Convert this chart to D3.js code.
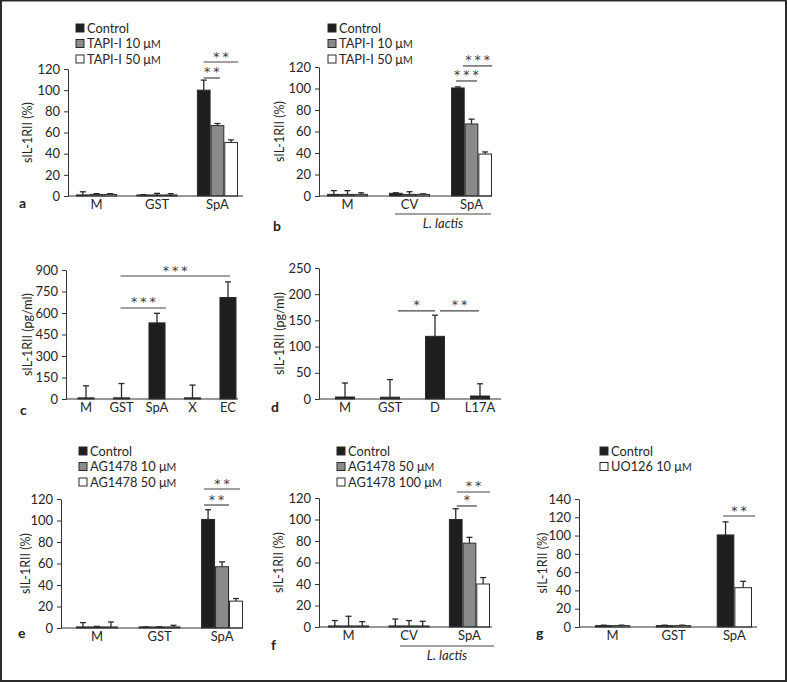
<!DOCTYPE html>
<html><head><meta charset="utf-8">
<script src="https://cdn.jsdelivr.net/npm/d3@7"></script>
<style>body{margin:0;background:#fff}svg{display:block}text{font-family:Lato,"Open Sans",sans-serif}</style>
</head><body><svg id="c" width="787" height="682"></svg>
<script>
// ---------- DATA ----------
const seriesColors = ["#1e1e1e", "#8a8a8a", "#ffffff"];

const aCategories = ["M", "GST", "SpA"];
const aSeries = ["Control", "TAPI-I 10 μM", "TAPI-I 50 μM"];
const aValues = [[1, 1, 100], [1.5, 1, 66.5], [1.5, 1, 50.5]];
const aErrTop = [[4, 1.2, 109.5], [2.2, 2.5, 68.5], [2.2, 2.2, 53]];

const bCategories = ["M", "CV", "SpA"];
const bSeries = ["Control", "TAPI-I 10 μM", "TAPI-I 50 μM"];
const bValues = [[1.5, 2.5, 100.5], [1.5, 1.5, 67], [1.5, 1.5, 39]];
const bErrTop = [[5, 3, 101.5], [5, 4, 71.5], [3, 2, 41]];

const cCategories = ["M", "GST", "SpA", "X", "EC"];
const cValues = [[8, 8, 531, 8, 708]];
const cErrTop = [[92, 108, 598, 97, 817]];

const dCategories = ["M", "GST", "D", "L17A"];
const dValues = [[3.8, 3.5, 119.6, 5.7]];
const dErrTop = [[30.5, 37, 160, 29]];

const eCategories = ["M", "GST", "SpA"];
const eSeries = ["Control", "AG1478 10 μM", "AG1478 50 μM"];
const eValues = [[1, 1, 101], [1, 1, 57], [1, 1, 25]];
const eErrTop = [[5, 1, 110], [1.5, 1.2, 61.5], [5.6, 2.5, 27.4]];

const fCategories = ["M", "CV", "SpA"];
const fSeries = ["Control", "AG1478 50 μM", "AG1478 100 μM"];
const fValues = [[1, 1, 100], [1, 1, 78], [1, 1, 40]];
const fErrTop = [[6, 7.4, 110], [10, 6, 83.4], [5, 5.3, 46]];

const gCategories = ["M", "GST", "SpA"];
const gSeries = ["Control", "UO126 10 μM"];
const gValues = [[1.5, 1.5, 100.7], [1.5, 1.5, 43]];
const gErrTop = [[2, 2, 115], [2, 2, 50]];

const pctTicks = [0, 20, 40, 60, 80, 100, 120];
const cTicks = [0, 150, 300, 450, 600, 750, 900];
const dTicks = [0, 50, 100, 150, 200, 250];
const gTicks = [0, 20, 40, 60, 80, 100, 120, 140];

// ---------- DRAW ----------
const svg = d3.select("#c");
const ink = "#2a2a2a";
const txt = "#262626";

function drawPanel(p) {
  const g = svg.append("g");
  const y = d3.scaleLinear().domain([0, p.yMax]).range([p.y0, p.y1]);
  const x0 = d3.scaleBand().domain(p.cats).range(p.band).paddingInner(p.pi).paddingOuter(0);
  const x1 = d3.scaleBand().domain(d3.range(p.values.length)).range([0, x0.bandwidth()]);
  const colors = p.colors || seriesColors;
  const center = (c, s) => x0(p.cats[c]) + x1(s) + x1.bandwidth() / 2;

  // bars
  p.values.forEach((vals, s) => {
    const rows = vals.map((v, i) => ({ v, e: p.err[s][i], c: p.cats[i] }));
    g.selectAll(null).data(rows).join("line")
      .attr("x1", d => x0(d.c) + x1(s) + x1.bandwidth() / 2)
      .attr("x2", d => x0(d.c) + x1(s) + x1.bandwidth() / 2)
      .attr("y1", d => y(d.v)).attr("y2", d => y(d.e))
      .attr("stroke", ink).attr("stroke-width", 1.3);
    g.selectAll(null).data(rows).join("line")
      .attr("x1", d => x0(d.c) + x1(s) + x1.bandwidth() / 2 - 3)
      .attr("x2", d => x0(d.c) + x1(s) + x1.bandwidth() / 2 + 3)
      .attr("y1", d => y(d.e)).attr("y2", d => y(d.e))
      .attr("stroke", ink).attr("stroke-width", 1.3);
    g.selectAll(null).data(rows).join("rect")
      .attr("x", d => x0(d.c) + x1(s) + 0.5)
      .attr("width", x1.bandwidth() - 1)
      .attr("y", d => y(d.v))
      .attr("height", d => y(0) - y(d.v))
      .attr("fill", colors[s])
      .attr("stroke", ink).attr("stroke-width", 1);
  });

  // y axis
  const ya = g.append("g").attr("transform", `translate(${p.axisX},0)`)
    .call(d3.axisLeft(y).tickValues(p.ticks).tickSize(4).tickSizeOuter(0).tickPadding(4));
  ya.selectAll("text").attr("font-size", 13).attr("fill", txt);
  ya.selectAll("line,path").attr("stroke", "#333");

  // x axis
  const xa = g.append("g").attr("transform", `translate(0,${p.y0})`)
    .call(d3.axisBottom(x0).tickSize(0).tickPadding(4));
  xa.select(".domain").remove();
  xa.selectAll("text").attr("font-size", 13).attr("fill", txt);
  g.append("line").attr("x1", p.axisX).attr("x2", p.axisEnd)
    .attr("y1", p.y0).attr("y2", p.y0).attr("stroke", "#333").attr("stroke-width", 1.2);

  // y title
  g.append("text").attr("transform", `translate(${p.titleX},${(p.y0 + p.y1) / 2}) rotate(-90)`)
    .attr("text-anchor", "middle").attr("font-size", 12.5).attr("fill", txt).text(p.title);

  // panel letter
  g.append("text").attr("x", p.letter[0]).attr("y", p.letter[1])
    .attr("font-size", 14).attr("font-weight", "bold").attr("fill", "#222").text(p.letter[2]);

  // significance
  (p.sig || []).forEach(s => {
    const xa1 = center(s.from[0], s.from[1]) + s.from[2];
    const xa2 = center(s.to[0], s.to[1]) + s.to[2];
    const yy = y(s.v);
    g.append("line").attr("x1", xa1).attr("x2", xa2).attr("y1", yy).attr("y2", yy)
      .attr("stroke", "#444").attr("stroke-width", 1.2);
    g.append("text").attr("x", (xa1 + xa2) / 2 + 1.5).attr("y", yy - 1.5)
      .attr("text-anchor", "middle").attr("font-size", 12.5)
      .style("font-family", "'DejaVu Sans', sans-serif").attr("fill", "#3a3a3a")
      .attr("letter-spacing", 3).text(s.label);
  });

  // legend
  if (p.legend) {
    p.legend.names.forEach((n, i) => {
      const cy = p.legend.y + i * p.legend.dy;
      g.append("rect").attr("x", p.legend.x).attr("y", cy - 4).attr("width", 8).attr("height", 8)
        .attr("fill", colors[i]).attr("stroke", ink).attr("stroke-width", 1);
      const parts = n.split("μM");
      const t = g.append("text").attr("x", p.legend.x + 11).attr("y", cy + 4.6)
        .attr("font-size", 12.8).attr("fill", txt);
      t.append("tspan").text(parts[0]);
      if (parts.length > 1) {
        t.append("tspan").text("μ");
        t.append("tspan").attr("font-size", 10.5).text("M");
      }
    });
  }

  // L. lactis bracket
  if (p.lactis) {
    g.append("line").attr("x1", p.lactis[0]).attr("x2", p.lactis[1])
      .attr("y1", p.lactis[2]).attr("y2", p.lactis[2]).attr("stroke", "#444").attr("stroke-width", 1.2);
    g.append("text").attr("x", (p.lactis[0] + p.lactis[1]) / 2).attr("y", p.lactis[2] + 14)
      .attr("text-anchor", "middle").attr("font-size", 13).attr("font-style", "italic")
      .attr("fill", txt).text("L. lactis");
  }
}

const gColors = [seriesColors[0], seriesColors[2]];

drawPanel({ cats: aCategories, values: aValues, err: aErrTop, yMax: 120, ticks: pctTicks,
  y0: 196, y1: 69, band: [76, 238], pi: 0.32, axisX: 68, axisEnd: 243,
  title: "sIL-1RII (%)", titleX: 32, letter: [19, 208, "a"],
  legend: { names: aSeries, x: 76, y: 28, dy: 15.5 },
  sig: [{ from: [2, 0, 0], to: [2, 1, 2.5], v: 111.5, label: "**" },
        { from: [2, 0, 0], to: [2, 2, 7], v: 126.6, label: "**" }] });

drawPanel({ cats: bCategories, values: bValues, err: bErrTop, yMax: 120, ticks: pctTicks,
  y0: 196, y1: 67, band: [327, 492], pi: 0.34, axisX: 319, axisEnd: 492,
  title: "sIL-1RII (%)", titleX: 284, letter: [273, 231, "b"],
  legend: { names: bSeries, x: 328, y: 28, dy: 15.5 },
  lactis: [395, 491, 214],
  sig: [{ from: [2, 0, -2], to: [2, 1, 5.5], v: 107, label: "***" },
        { from: [2, 0, 5], to: [2, 2, 7], v: 121, label: "***" }] });

drawPanel({ cats: cCategories, values: cValues, err: cErrTop, yMax: 900, ticks: cTicks,
  y0: 399, y1: 270, band: [77.5, 236.5], pi: 0.52, axisX: 66, axisEnd: 238,
  title: "sIL-1RII (pg/ml)", titleX: 32, letter: [20, 415, "c"],
  sig: [{ from: [1, 0, -1], to: [2, 0, 9], v: 635, label: "***" },
        { from: [1, 0, -1], to: [4, 0, 2], v: 858, label: "***" }] });

drawPanel({ cats: dCategories, values: dValues, err: dErrTop, yMax: 250, ticks: dTicks,
  y0: 399, y1: 268, band: [335, 490], pi: 0.555, axisX: 319, axisEnd: 501,
  title: "sIL-1RII (pg/ml)", titleX: 284, letter: [271, 412, "d"],
  sig: [{ from: [1, 0, 8], to: [2, 0, 0], v: 168, label: "*" },
        { from: [2, 0, 5], to: [3, 0, -1], v: 168, label: "**" }] });

drawPanel({ cats: eCategories, values: eValues, err: eErrTop, yMax: 120, ticks: pctTicks,
  y0: 628, y1: 499, band: [76, 243], pi: 0.33, axisX: 61, axisEnd: 243,
  title: "sIL-1RII (%)", titleX: 30, letter: [18, 638, "e"],
  legend: { names: eSeries, x: 79, y: 451, dy: 15.5 },
  sig: [{ from: [2, 0, -4], to: [2, 1, 7], v: 114.4, label: "**" },
        { from: [2, 0, -4], to: [2, 2, 4], v: 129.3, label: "**" }] });

drawPanel({ cats: fCategories, values: fValues, err: fErrTop, yMax: 120, ticks: pctTicks,
  y0: 627, y1: 498, band: [328, 490], pi: 0.32, axisX: 319, axisEnd: 492,
  title: "sIL-1RII (%)", titleX: 283, letter: [271, 650, "f"],
  legend: { names: fSeries, x: 337, y: 451, dy: 15.5 },
  lactis: [400, 494, 646],
  sig: [{ from: [2, 0, 1], to: [2, 1, 7.5], v: 112.6, label: "*" },
        { from: [2, 0, 1], to: [2, 2, 7], v: 125.6, label: "**" }] });

drawPanel({ cats: gCategories, values: gValues, err: gErrTop, yMax: 140, ticks: gTicks,
  y0: 627, y1: 499, band: [595, 752], pi: 0.42, axisX: 579, axisEnd: 757,
  title: "sIL-1RII (%)", titleX: 547, letter: [536, 638, "g"], colors: gColors,
  legend: { names: gSeries, x: 600, y: 451, dy: 15.5 },
  sig: [{ from: [2, 0, -2.5], to: [2, 1, 12], v: 121.4, label: "**" }] });

// outer frame
svg.append("rect").attr("x", 1).attr("y", 0.5).attr("width", 785).attr("height", 680.5)
  .attr("fill", "none").attr("stroke", "#2b2b2b").attr("stroke-width", 2);
</script></body></html>
